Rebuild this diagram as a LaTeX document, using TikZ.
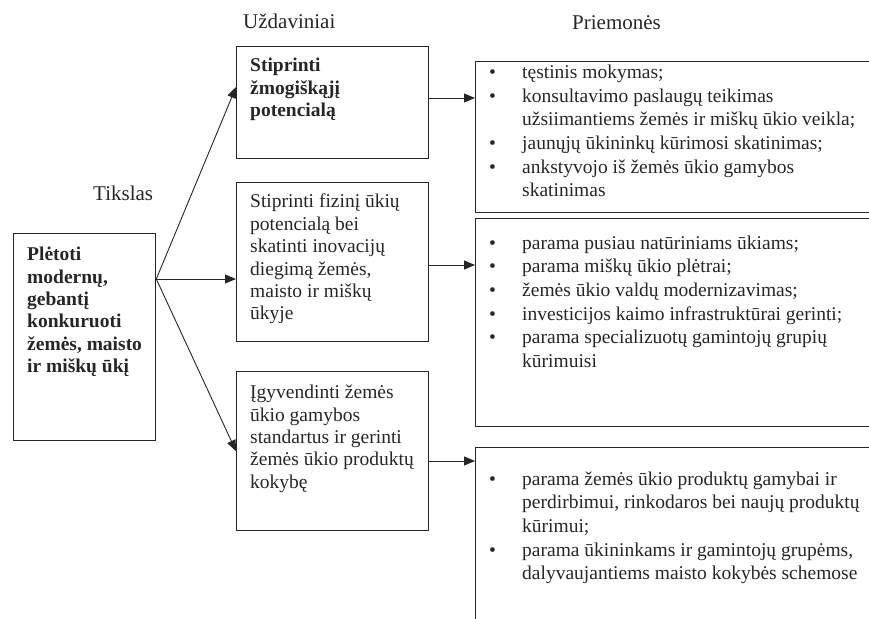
\documentclass[tikz,border=0pt]{standalone}
\usepackage{fontspec}
\setmainfont{Liberation Serif}
\usetikzlibrary{arrows.meta,calc,positioning}
\tikzset{
  box/.style={draw=black!85, line width=1.3pt, anchor=north west, inner sep=0pt},
  boxtext/.style={anchor=north west, inner sep=0pt, align=left, text=black!85,
    font=\fontsize{19.5}{22.4}\selectfont},
  boldtext/.style={boxtext, font=\fontsize{19.5}{22.4}\selectfont\bfseries},
  listtext/.style={boxtext, font=\fontsize{19.5}{23.6}\selectfont},
  head/.style={anchor=base west, inner sep=0pt, text=black!85,
    font=\fontsize{21}{24}\selectfont},
  link/.style={draw=black!85, line width=0.9pt, -{Triangle[length=11pt,width=9pt]}}
}
\newcommand{\itm}{\makebox[33pt][l]{\textbullet}}
\newcommand{\cnt}{\hspace*{33pt}}
\begin{document}
\begin{tikzpicture}[x=1pt,y=-1pt]
\useasboundingbox (0,0) rectangle (869,618);
\clip (0,0) rectangle (869,618);
% headings
\node[head] (hgoal) at (93,200) {Tikslas};
\node[head] (htask) at (243,29) {Uždaviniai};
\node[head] (hmeas) at (572,30) {Priemonės};
% goal
\node[box, minimum width=142pt, minimum height=207pt] (goal) at (13,233) {};
\node[boldtext] (goaltxt) at ($(goal.north west)+(14,14)$)
  {Plėtoti\\modernų,\\gebantį\\konkuruoti\\žemės, maisto\\ir miškų ūkį};
% tasks
\node[box, minimum width=192pt, minimum height=112pt] (task1) at (236,46) {};
\node[box, minimum width=192pt, minimum height=159pt] (task2) at (236,182) {};
\node[box, minimum width=192pt, minimum height=159pt] (task3) at (236,371) {};
\node[boldtext] (task1txt) at ($(task1.north west)+(14,12)$)
  {Stiprinti\\žmogiškąjį\\potencialą};
\node[boxtext] (task2txt) at ($(task2.north west)+(14,12)$)
  {Stiprinti fizinį ūkių\\potencialą bei\\skatinti inovacijų\\diegimą žemės,\\maisto ir miškų\\ūkyje};
\node[boxtext] (task3txt) at ($(task3.north west)+(14,14)$)
  {Įgyvendinti žemės\\ūkio gamybos\\standartus ir gerinti\\žemės ūkio produktų\\kokybę};
% measures
\node[box, minimum width=405pt, minimum height=151pt] (meas1) at (475,61) {};
\node[box, minimum width=405pt, minimum height=208pt] (meas2) at (475,218) {};
\node[box, minimum width=405pt, minimum height=200pt] (meas3) at (475,447) {};
\node[listtext] (meas1txt) at ($(meas1.north west)+(14,4)$)
  {\itm tęstinis mokymas;\\
   \itm konsultavimo paslaugų teikimas\\
   \cnt užsiimantiems žemės ir miškų ūkio veikla;\\
   \itm jaunųjų ūkininkų kūrimosi skatinimas;\\
   \itm ankstyvojo iš žemės ūkio gamybos\\
   \cnt skatinimas};
\node[listtext] (meas2txt) at ($(meas2.north west)+(14,17.5)$)
  {\itm parama pusiau natūriniams ūkiams;\\
   \itm parama miškų ūkio plėtrai;\\
   \itm žemės ūkio valdų modernizavimas;\\
   \itm investicijos kaimo infrastruktūrai gerinti;\\
   \itm parama specializuotų gamintojų grupių\\
   \cnt kūrimuisi};
\node[listtext] (meas3txt) at ($(meas3.north west)+(14,24.5)$)
  {\itm parama žemės ūkio produktų gamybai ir\\
   \cnt perdirbimui, rinkodaros bei naujų produktų\\
   \cnt kūrimui;\\
   \itm parama ūkininkams ir gamintojų grupėms,\\
   \cnt dalyvaujantiems maisto kokybės schemose};
% connectors
\coordinate (gout) at ($(goal.north east)+(0,46)$);
\draw[link] (gout) -- ($(task1.north west)+(0,41)$);
\draw[link] (gout) -- (task2.west |- gout);
\draw[link] (gout) -- (task3.west);
\draw[link] ($(task1.north east)+(0,52)$) -- ($(meas1.north west)+(0,37)$);
\draw[link] ($(task2.north east)+(0,83)$) -- ($(meas2.north west)+(0,47)$);
\draw[link] ($(task3.north east)+(0,90)$) -- ($(meas3.north west)+(0,14)$);
\end{tikzpicture}
\end{document}
